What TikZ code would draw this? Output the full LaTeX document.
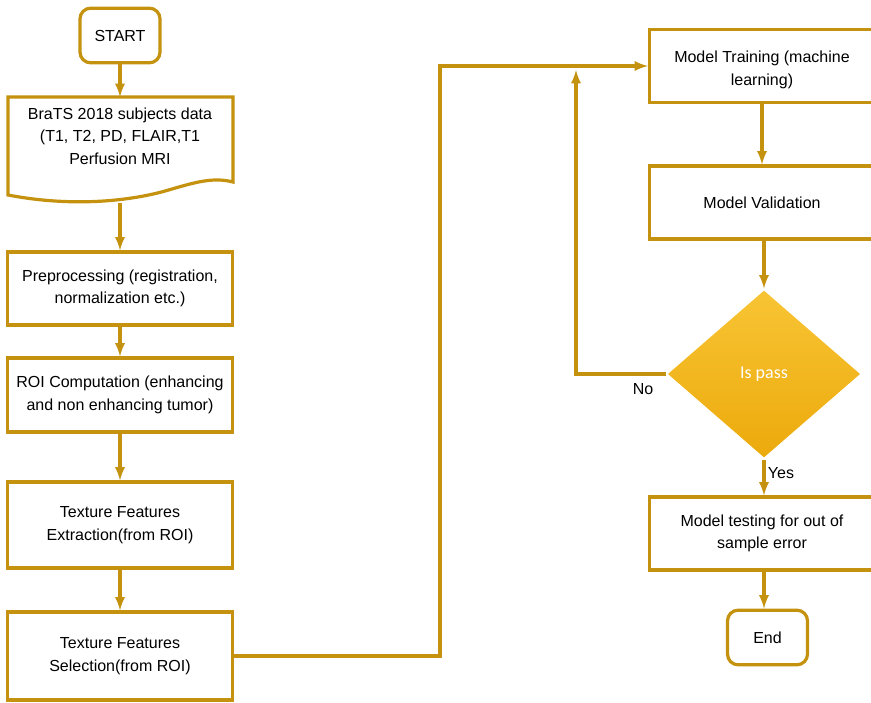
\documentclass[tikz,border=0pt]{standalone}
\usepackage{fontspec}
\setmainfont{Liberation Sans}
\newfontfamily\passfont{Carlito}
\usetikzlibrary{shapes.geometric}

\definecolor{gold}{RGB}{196,146,14}
\definecolor{goldtop}{RGB}{248,196,52}
\definecolor{goldbot}{RGB}{236,170,12}

\tikzset{every picture/.style={line width=2.4pt}}

\begin{document}
\begin{tikzpicture}[x=0.75pt,y=0.75pt,yscale=-1,xscale=1,
  box/.style={draw=gold,fill=white,rectangle,minimum width=168.75pt,minimum height=54.75pt,
    align=center,inner sep=0.75pt,font=\fontsize{12}{17}\selectfont},
  term/.style={draw=gold,fill=white,rounded corners=8pt,minimum width=60pt,minimum height=41pt,
    font=\fontsize{12}{17}\selectfont},
  decision/.style={diamond,draw=none,top color=goldtop,bottom color=goldbot,
    minimum width=145pt,minimum height=126pt,inner sep=0pt,text=white,font=\passfont\fontsize{13.5}{15}\selectfont},
  flow/.style={draw=gold,line width=2.4pt,->,>=latex},
  lbl/.style={inner sep=0.75pt,font=\fontsize{12}{14}\selectfont}]
\useasboundingbox (0,0) rectangle (871,703);

%Shape: Document [id:data]
\draw[draw=gold,fill=white] (8,97) -- (233,97) -- (233,182) .. controls (214,177) and (196,182) .. (172,189) .. controls (130,202) and (70,207) .. (8,195) -- cycle ;
\coordinate (databot) at (120,203);

% Text Node
\node[term] (start) at (120,35.5) {START};
% Text Node
\node[align=center,inner sep=0.75pt,font=\fontsize{12}{17}\selectfont] (data) at (120,136) {BraTS 2018 subjects data\\(T1, T2, PD, FLAIR,T1\\Perfusion MRI};
% Text Node
\node[box] (prep) at (120,288.5) {Preprocessing (registration,\\normalization etc.)};
% Text Node
\node[box,minimum height=55.5pt] (roi) at (120,395) {ROI Computation (enhancing\\and non enhancing tumor)};
% Text Node
\node[box,minimum height=64.5pt] (extr) at (120,525) {Texture Features\\Extraction(from ROI)};
% Text Node
\node[box,minimum height=66pt] (sel) at (120,656) {Texture Features\\Selection(from ROI)};

% Text Node
\node[box,text height=31pt] (train) at (762,66) {Model Training (machine\\learning)};
% Text Node
\node[box] (valid) at (762,202.5) {Model Validation};
% Text Node
\node[decision] (pass) at (764,374) {Is pass};
% Text Node
\node[box] (test) at (762,533.5) {Model testing for out of\\sample error};
% Text Node
\node[term] (end) at (767.5,637.5) {End};

%Straight Lines
\draw[flow] (start.south) -- (120,97) ;
\draw[flow] (databot) -- (prep.north -| databot) ;
\draw[flow] (prep) -- (roi) ;
\draw[flow] (roi) -- (extr) ;
\draw[flow] (extr) -- (sel) ;
\coordinate (jog) at (440,66);
\draw[flow] (sel.east) -| (jog) -- (train.west) ;
\draw[flow] (train) -- (valid) ;
\draw[flow] (valid.south -| pass) -- (pass.north) ;
\coordinate (loop) at (576,70);
\draw[flow] (pass.west) -| (loop) ;
\draw[flow] (pass.south) -- (test.north -| pass) ;
\draw[flow] (test.south -| pass) -- (end.north -| pass) ;

% Text Node
\node[lbl] (no) at (643,389) {No};
% Text Node
\node[lbl] (yes) at (781,473) {Yes};

\end{tikzpicture}
\end{document}
